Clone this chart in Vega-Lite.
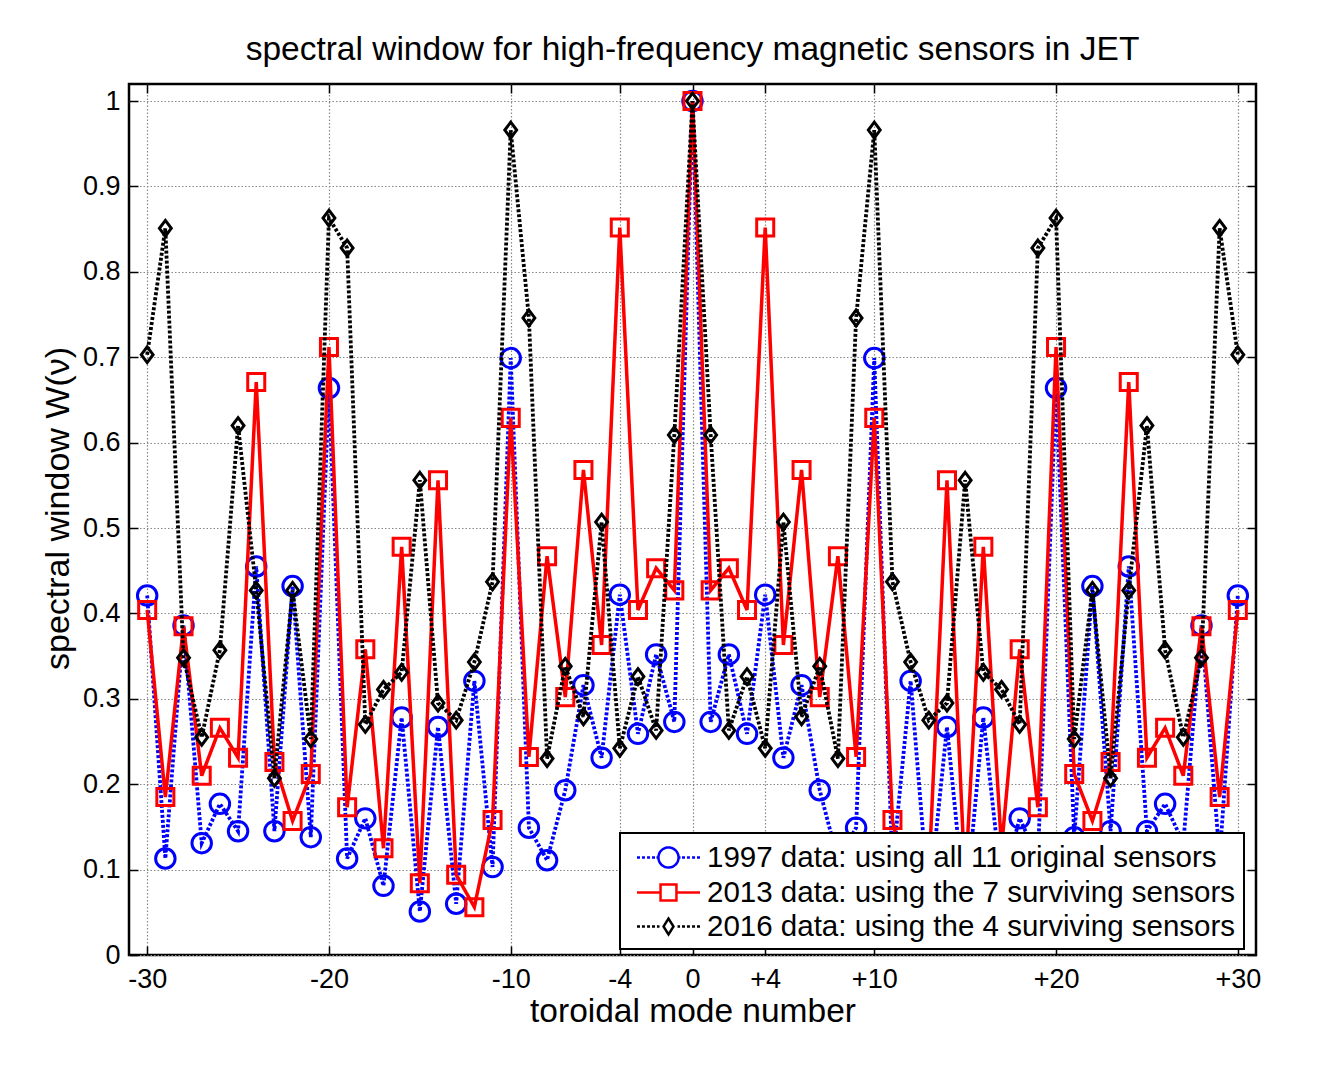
{
  "$schema": "https://vega.github.io/schema/vega-lite/v6.json",
  "width": 1127,
  "height": 871,
  "autosize": "none",
  "padding": {"left": 129, "top": 84, "right": 64, "bottom": 133},
  "background": "white",
  "title": {"text": "spectral window for high-frequency magnetic sensors in JET", "fontSize": 33.5, "font": "Liberation Sans", "fontWeight": "normal", "color": "black", "offset": 16, "anchor": "middle"},
  "data": {"values": [
    {"n":-30,"W":0.421,"s":"1997"},{"n":-29,"W":0.113,"s":"1997"},{"n":-28,"W":0.386,"s":"1997"},{"n":-27,"W":0.131,"s":"1997"},{"n":-26,"W":0.177,"s":"1997"},{"n":-25,"W":0.145,"s":"1997"},{"n":-24,"W":0.455,"s":"1997"},{"n":-23,"W":0.145,"s":"1997"},{"n":-22,"W":0.432,"s":"1997"},{"n":-21,"W":0.138,"s":"1997"},{"n":-20,"W":0.664,"s":"1997"},{"n":-19,"W":0.113,"s":"1997"},{"n":-18,"W":0.16,"s":"1997"},{"n":-17,"W":0.081,"s":"1997"},{"n":-16,"W":0.278,"s":"1997"},{"n":-15,"W":0.051,"s":"1997"},{"n":-14,"W":0.267,"s":"1997"},{"n":-13,"W":0.06,"s":"1997"},{"n":-12,"W":0.321,"s":"1997"},{"n":-11,"W":0.103,"s":"1997"},{"n":-10,"W":0.699,"s":"1997"},{"n":-9,"W":0.149,"s":"1997"},{"n":-8,"W":0.111,"s":"1997"},{"n":-7,"W":0.193,"s":"1997"},{"n":-6,"W":0.316,"s":"1997"},{"n":-5,"W":0.231,"s":"1997"},{"n":-4,"W":0.422,"s":"1997"},{"n":-3,"W":0.259,"s":"1997"},{"n":-2,"W":0.352,"s":"1997"},{"n":-1,"W":0.273,"s":"1997"},{"n":0,"W":1.0,"s":"1997"},
    {"n":1,"W":0.273,"s":"1997"},{"n":2,"W":0.352,"s":"1997"},{"n":3,"W":0.259,"s":"1997"},{"n":4,"W":0.422,"s":"1997"},{"n":5,"W":0.231,"s":"1997"},{"n":6,"W":0.316,"s":"1997"},{"n":7,"W":0.193,"s":"1997"},{"n":8,"W":0.111,"s":"1997"},{"n":9,"W":0.149,"s":"1997"},{"n":10,"W":0.699,"s":"1997"},{"n":11,"W":0.103,"s":"1997"},{"n":12,"W":0.321,"s":"1997"},{"n":13,"W":0.06,"s":"1997"},{"n":14,"W":0.267,"s":"1997"},{"n":15,"W":0.051,"s":"1997"},{"n":16,"W":0.278,"s":"1997"},{"n":17,"W":0.081,"s":"1997"},{"n":18,"W":0.16,"s":"1997"},{"n":19,"W":0.113,"s":"1997"},{"n":20,"W":0.664,"s":"1997"},{"n":21,"W":0.138,"s":"1997"},{"n":22,"W":0.432,"s":"1997"},{"n":23,"W":0.145,"s":"1997"},{"n":24,"W":0.455,"s":"1997"},{"n":25,"W":0.145,"s":"1997"},{"n":26,"W":0.177,"s":"1997"},{"n":27,"W":0.131,"s":"1997"},{"n":28,"W":0.386,"s":"1997"},{"n":29,"W":0.113,"s":"1997"},{"n":30,"W":0.421,"s":"1997"},
    {"n":-30,"W":0.404,"s":"2013"},{"n":-29,"W":0.185,"s":"2013"},{"n":-28,"W":0.385,"s":"2013"},{"n":-27,"W":0.21,"s":"2013"},{"n":-26,"W":0.266,"s":"2013"},{"n":-25,"W":0.231,"s":"2013"},{"n":-24,"W":0.671,"s":"2013"},{"n":-23,"W":0.226,"s":"2013"},{"n":-22,"W":0.157,"s":"2013"},{"n":-21,"W":0.212,"s":"2013"},{"n":-20,"W":0.712,"s":"2013"},{"n":-19,"W":0.173,"s":"2013"},{"n":-18,"W":0.358,"s":"2013"},{"n":-17,"W":0.125,"s":"2013"},{"n":-16,"W":0.478,"s":"2013"},{"n":-15,"W":0.084,"s":"2013"},{"n":-14,"W":0.556,"s":"2013"},{"n":-13,"W":0.094,"s":"2013"},{"n":-12,"W":0.056,"s":"2013"},{"n":-11,"W":0.158,"s":"2013"},{"n":-10,"W":0.629,"s":"2013"},{"n":-9,"W":0.232,"s":"2013"},{"n":-8,"W":0.467,"s":"2013"},{"n":-7,"W":0.302,"s":"2013"},{"n":-6,"W":0.568,"s":"2013"},{"n":-5,"W":0.363,"s":"2013"},{"n":-4,"W":0.852,"s":"2013"},{"n":-3,"W":0.404,"s":"2013"},{"n":-2,"W":0.453,"s":"2013"},{"n":-1,"W":0.427,"s":"2013"},{"n":0,"W":1.0,"s":"2013"},
    {"n":1,"W":0.427,"s":"2013"},{"n":2,"W":0.453,"s":"2013"},{"n":3,"W":0.404,"s":"2013"},{"n":4,"W":0.852,"s":"2013"},{"n":5,"W":0.363,"s":"2013"},{"n":6,"W":0.568,"s":"2013"},{"n":7,"W":0.302,"s":"2013"},{"n":8,"W":0.467,"s":"2013"},{"n":9,"W":0.232,"s":"2013"},{"n":10,"W":0.629,"s":"2013"},{"n":11,"W":0.158,"s":"2013"},{"n":12,"W":0.056,"s":"2013"},{"n":13,"W":0.094,"s":"2013"},{"n":14,"W":0.556,"s":"2013"},{"n":15,"W":0.084,"s":"2013"},{"n":16,"W":0.478,"s":"2013"},{"n":17,"W":0.125,"s":"2013"},{"n":18,"W":0.358,"s":"2013"},{"n":19,"W":0.173,"s":"2013"},{"n":20,"W":0.712,"s":"2013"},{"n":21,"W":0.212,"s":"2013"},{"n":22,"W":0.157,"s":"2013"},{"n":23,"W":0.226,"s":"2013"},{"n":24,"W":0.671,"s":"2013"},{"n":25,"W":0.231,"s":"2013"},{"n":26,"W":0.266,"s":"2013"},{"n":27,"W":0.21,"s":"2013"},{"n":28,"W":0.385,"s":"2013"},{"n":29,"W":0.185,"s":"2013"},{"n":30,"W":0.404,"s":"2013"},
    {"n":-30,"W":0.703,"s":"2016"},{"n":-29,"W":0.851,"s":"2016"},{"n":-28,"W":0.348,"s":"2016"},{"n":-27,"W":0.255,"s":"2016"},{"n":-26,"W":0.357,"s":"2016"},{"n":-25,"W":0.62,"s":"2016"},{"n":-24,"W":0.427,"s":"2016"},{"n":-23,"W":0.207,"s":"2016"},{"n":-22,"W":0.427,"s":"2016"},{"n":-21,"W":0.253,"s":"2016"},{"n":-20,"W":0.863,"s":"2016"},{"n":-19,"W":0.828,"s":"2016"},{"n":-18,"W":0.27,"s":"2016"},{"n":-17,"W":0.311,"s":"2016"},{"n":-16,"W":0.331,"s":"2016"},{"n":-15,"W":0.556,"s":"2016"},{"n":-14,"W":0.295,"s":"2016"},{"n":-13,"W":0.275,"s":"2016"},{"n":-12,"W":0.343,"s":"2016"},{"n":-11,"W":0.437,"s":"2016"},{"n":-10,"W":0.966,"s":"2016"},{"n":-9,"W":0.746,"s":"2016"},{"n":-8,"W":0.23,"s":"2016"},{"n":-7,"W":0.338,"s":"2016"},{"n":-6,"W":0.279,"s":"2016"},{"n":-5,"W":0.507,"s":"2016"},{"n":-4,"W":0.242,"s":"2016"},{"n":-3,"W":0.326,"s":"2016"},{"n":-2,"W":0.263,"s":"2016"},{"n":-1,"W":0.609,"s":"2016"},{"n":0,"W":1.0,"s":"2016"},
    {"n":1,"W":0.609,"s":"2016"},{"n":2,"W":0.263,"s":"2016"},{"n":3,"W":0.326,"s":"2016"},{"n":4,"W":0.242,"s":"2016"},{"n":5,"W":0.507,"s":"2016"},{"n":6,"W":0.279,"s":"2016"},{"n":7,"W":0.338,"s":"2016"},{"n":8,"W":0.23,"s":"2016"},{"n":9,"W":0.746,"s":"2016"},{"n":10,"W":0.966,"s":"2016"},{"n":11,"W":0.437,"s":"2016"},{"n":12,"W":0.343,"s":"2016"},{"n":13,"W":0.275,"s":"2016"},{"n":14,"W":0.295,"s":"2016"},{"n":15,"W":0.556,"s":"2016"},{"n":16,"W":0.331,"s":"2016"},{"n":17,"W":0.311,"s":"2016"},{"n":18,"W":0.27,"s":"2016"},{"n":19,"W":0.828,"s":"2016"},{"n":20,"W":0.863,"s":"2016"},{"n":21,"W":0.253,"s":"2016"},{"n":22,"W":0.427,"s":"2016"},{"n":23,"W":0.207,"s":"2016"},{"n":24,"W":0.427,"s":"2016"},{"n":25,"W":0.62,"s":"2016"},{"n":26,"W":0.357,"s":"2016"},{"n":27,"W":0.255,"s":"2016"},{"n":28,"W":0.348,"s":"2016"},{"n":29,"W":0.851,"s":"2016"},{"n":30,"W":0.703,"s":"2016"}
  ]},
  "layer": [
    {
      "mark": {"type": "point", "opacity": 0},
      "encoding": {
        "x": {"field": "n", "type": "quantitative", "scale": {"domain": [-31, 31], "nice": false, "zero": false},
          "axis": {"orient": "bottom", "values": [-30, -20, -10, -4, 0, 4, 10, 20, 30], "labelExpr": "datum.value > 0 ? '+' + datum.value : '' + datum.value", "tickSize": -9, "tickWidth": 1.5, "tickColor": "black", "labelPadding": 20, "labelFlush": false, "labelOverlap": false, "grid": true, "gridDash": [1.5, 2], "gridColor": "#888888", "gridWidth": 1.2, "domain": false, "labelFontSize": 27, "labelFont": "Liberation Sans", "labelColor": "black", "title": "toroidal mode number", "titleFontSize": 33.5, "titleFont": "Liberation Sans", "titleFontWeight": "normal", "titleColor": "black", "titlePadding": 3}},
        "y": {"field": "W", "type": "quantitative", "scale": {"domain": [0, 1.02], "nice": false, "zero": false},
          "axis": {"orient": "left", "values": [0, 0.1, 0.2, 0.3, 0.4, 0.5, 0.6, 0.7, 0.8, 0.9, 1], "labelExpr": "'' + datum.value", "tickSize": -9, "tickWidth": 1.5, "tickColor": "black", "labelPadding": 18, "labelFlush": false, "labelOverlap": false, "grid": true, "gridDash": [1.5, 2], "gridColor": "#888888", "gridWidth": 1.2, "domain": false, "labelFontSize": 27, "labelFont": "Liberation Sans", "labelColor": "black", "title": "spectral window W(ν)", "titleFontSize": 34, "titleFont": "Liberation Sans", "titleFontWeight": "normal", "titleColor": "black", "titlePadding": 7, "titleY": 424}}
      }
    },
    {
      "mark": {"type": "point", "opacity": 0},
      "encoding": {
        "x": {"field": "n", "type": "quantitative", "scale": {"domain": [-31, 31], "nice": false, "zero": false},
          "axis": {"orient": "top", "values": [-30, -20, -10, -4, 0, 4, 10, 20, 30], "labels": false, "tickSize": -9, "tickWidth": 1.5, "tickColor": "black", "grid": false, "domain": false, "title": null}},
        "y": {"field": "W", "type": "quantitative", "scale": {"domain": [0, 1.02], "nice": false, "zero": false},
          "axis": {"orient": "right", "values": [0, 0.1, 0.2, 0.3, 0.4, 0.5, 0.6, 0.7, 0.8, 0.9, 1], "labels": false, "tickSize": -9, "tickWidth": 1.5, "tickColor": "black", "grid": false, "domain": false, "title": null}}
      }
    },
    {
      "transform": [{"filter": "datum.s === '1997'"}],
      "mark": {"type": "line", "strokeWidth": 3.8, "strokeDash": [3, 2]},
      "encoding": {
        "x": {"field": "n", "type": "quantitative", "axis": null},
        "y": {"field": "W", "type": "quantitative", "axis": null},
        "color": {"field": "s", "type": "nominal", "scale": {"domain": ["1997", "2013", "2016"], "range": ["#0000ff", "#ff0000", "#000000"]},
          "legend": {
            "orient": "none", "legendX": 491, "legendY": 749, "title": null,
            "fillColor": "white", "strokeColor": "black", "padding": 8, "rowPadding": 3,
            "symbolSize": 900, "symbolStrokeWidth": 2.5, "symbolOffset": 24, "labelOffset": 22, "symbolOpacity": 1, "symbolDash": [1, 0], "symbolFillColor": "transparent",
            "labelFontSize": 29.5, "labelFont": "Liberation Sans", "labelColor": "black", "labelLimit": 800,
            "labelExpr": "datum.value === '1997' ? '1997 data: using all 11 original sensors' : datum.value === '2013' ? '2013 data: using the 7 surviving sensors' : '2016 data: using the 4 surviving sensors'"
          }}
      }
    },
    {
      "transform": [{"filter": "datum.s === '1997'"}],
      "mark": {"type": "point", "shape": "circle", "filled": false, "size": 380, "strokeWidth": 3, "opacity": 1},
      "encoding": {
        "x": {"field": "n", "type": "quantitative", "axis": null},
        "y": {"field": "W", "type": "quantitative", "axis": null},
        "color": {"field": "s", "type": "nominal"}
      }
    },
    {
      "transform": [{"filter": "datum.s === '2013'"}],
      "mark": {"type": "line", "strokeWidth": 3.5},
      "encoding": {
        "x": {"field": "n", "type": "quantitative", "axis": null},
        "y": {"field": "W", "type": "quantitative", "axis": null},
        "color": {"field": "s", "type": "nominal"}
      }
    },
    {
      "transform": [{"filter": "datum.s === '2013'"}],
      "mark": {"type": "point", "shape": "square", "filled": false, "size": 290, "strokeWidth": 3, "opacity": 1},
      "encoding": {
        "x": {"field": "n", "type": "quantitative", "axis": null},
        "y": {"field": "W", "type": "quantitative", "axis": null},
        "color": {"field": "s", "type": "nominal"}
      }
    },
    {
      "transform": [{"filter": "datum.s === '2016'"}],
      "mark": {"type": "line", "strokeWidth": 3.8, "strokeDash": [3, 2]},
      "encoding": {
        "x": {"field": "n", "type": "quantitative", "axis": null},
        "y": {"field": "W", "type": "quantitative", "axis": null},
        "color": {"field": "s", "type": "nominal"}
      }
    },
    {
      "transform": [{"filter": "datum.s === '2016'"}],
      "mark": {"type": "point", "shape": "M0,-1L0.75,0L0,1L-0.75,0Z", "filled": false, "size": 250, "strokeWidth": 3, "opacity": 1},
      "encoding": {
        "x": {"field": "n", "type": "quantitative", "axis": null},
        "y": {"field": "W", "type": "quantitative", "axis": null},
        "color": {"field": "s", "type": "nominal"}
      }
    },
    {
      "mark": {"type": "point", "filled": false, "opacity": 0},
      "encoding": {
        "x": {"field": "n", "type": "quantitative", "axis": null},
        "y": {"field": "W", "type": "quantitative", "axis": null},
        "color": {"field": "s", "type": "nominal"},
        "shape": {"field": "s", "type": "nominal",
          "scale": {"domain": ["1997", "2013", "2016"], "range": [
            "M-2.1,0L-1.9,0M-1.77,0L-1.57,0M-1.43,0L-1.23,0M-1.1,0L-0.9,0M-0.8,0L-0.67,0M-0.67,0A0.67,0.67 0 1,1 0.67,0A0.67,0.67 0 1,1 -0.67,0M0.67,0L0.8,0M0.9,0L1.1,0M1.23,0L1.43,0M1.57,0L1.77,0M1.9,0L2.1,0",
            "M-2.1,0L-0.53,0M-0.53,-0.53L0.53,-0.53L0.53,0.53L-0.53,0.53ZM0.53,0L2.1,0",
            "M-2.1,0L-1.9,0M-1.77,0L-1.57,0M-1.43,0L-1.23,0M-1.1,0L-0.9,0M-0.77,0L-0.6,0M-0.33,0L0,-0.53L0.33,0L0,0.53ZM0.6,0L0.77,0M0.9,0L1.1,0M1.23,0L1.43,0M1.57,0L1.77,0M1.9,0L2.1,0"
          ]},
          "legend": {
            "orient": "none", "legendX": 491, "legendY": 749, "title": null,
            "fillColor": "white", "strokeColor": "black", "padding": 8, "rowPadding": 3,
            "symbolSize": 900, "symbolStrokeWidth": 2.5, "symbolOffset": 24, "labelOffset": 22, "symbolOpacity": 1, "symbolDash": [1, 0], "symbolFillColor": "transparent",
            "labelFontSize": 29.5, "labelFont": "Liberation Sans", "labelColor": "black", "labelLimit": 800,
            "labelExpr": "datum.value === '1997' ? '1997 data: using all 11 original sensors' : datum.value === '2013' ? '2013 data: using the 7 surviving sensors' : '2016 data: using the 4 surviving sensors'"
          }}
      }
    }
  ],
  "resolve": {"axis": {"x": "independent", "y": "independent"}},
  "config": {
    "view": {"stroke": "black", "strokeWidth": 2.5},
    "font": "Liberation Sans",
    "legend": {"strokeWidth": 2}
  }
}
